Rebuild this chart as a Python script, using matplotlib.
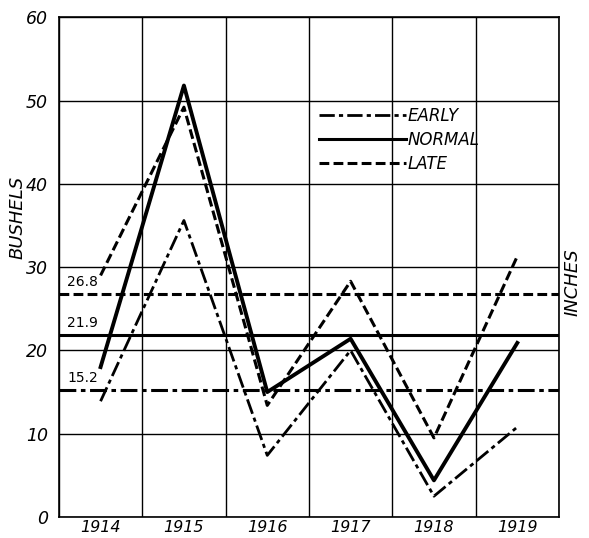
import matplotlib
matplotlib.use('Agg')
import matplotlib.pyplot as plt
from matplotlib.lines import Line2D

years = ['1914', '1915', '1916', '1917', '1918', '1919']
early = [13.9, 35.6, 7.4, 20.0, 2.5, 10.8]
normal = [18.0, 51.8, 15.0, 21.4, 4.4, 20.9]
late = [29.0, 49.2, 13.4, 28.3, 9.5, 31.3]
avg_names = ['EARLY', 'NORMAL', 'LATE']
avg_values = [15.2, 21.9, 26.8]

plt.rcParams['font.family'] = 'DejaVu Sans'

fig = plt.figure(figsize=(5.89, 5.38), dpi=100)
ax = fig.add_axes([0.100, 0.039, 0.849, 0.929])

xpos = [i + 0.5 for i in range(len(years))]
dashdot = (0, (5.5, 1.5, 1.5, 1.5))
dash = (0, (3.2, 1.4))

# grid
for gx in range(0, 7):
    ax.axvline(gx, color='black', lw=1.0, zorder=1)
for gy in range(0, 61, 10):
    ax.axhline(gy, color='black', lw=1.0, zorder=1)

# averages
styles = {'EARLY': dashdot, 'NORMAL': '-', 'LATE': dash}
for name, val in zip(avg_names, avg_values):
    ax.axhline(val, color='black', lw=2.2, ls=styles[name], zorder=2)
    ax.text(0.1, val + 0.6, '%.1f' % val, fontsize=10, ha='left', va='bottom')

ax.plot(xpos, early, color='black', lw=2.0, ls=dashdot, zorder=3)
ax.plot(xpos, normal, color='black', lw=2.8, ls='-', zorder=3)
ax.plot(xpos, late, color='black', lw=2.2, ls=dash, zorder=3)

ax.set_xlim(0, 6)
ax.set_ylim(0, 60)
ax.set_xticks(xpos)
ax.set_xticklabels(years, fontsize=11.5, style='italic')
ax.set_yticks(range(0, 61, 10))
ax.set_yticklabels([str(v) for v in range(0, 61, 10)], fontsize=12.5, style='italic')
ax.tick_params(axis='x', length=0, pad=2)
ax.tick_params(axis='y', length=0, pad=8)
for s in ax.spines.values():
    s.set_linewidth(1.2)

ax.text(-0.083, 0.6, 'BUSHELS', transform=ax.transAxes, rotation=90,
        fontsize=13, style='italic', ha='center', va='center')
ax.text(1.028, 0.47, 'INCHES', transform=ax.transAxes, rotation=90,
        fontsize=13, style='italic', ha='center', va='center')

handles = [Line2D([0], [0], color='black', lw=2.0, ls=dashdot),
           Line2D([0], [0], color='black', lw=2.2, ls='-'),
           Line2D([0], [0], color='black', lw=2.2, ls=dash)]
leg = ax.legend(handles, avg_names, loc='upper left', bbox_to_anchor=(0.49, 0.85),
                frameon=False, handlelength=5.2, handletextpad=0.1, labelspacing=0.35,
                prop={'style': 'italic', 'size': 12})

fig.savefig('out.png', dpi=100)
